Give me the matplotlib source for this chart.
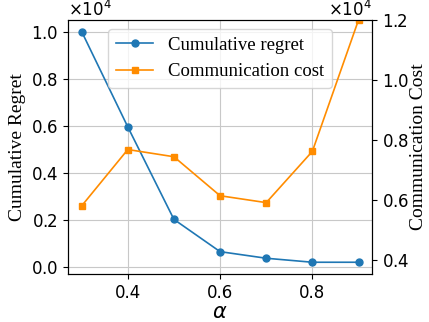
import matplotlib.pyplot as plt

# Données
alpha = [0.3, 0.4, 0.5, 0.6, 0.7, 0.8, 0.9]
regret_cumule = [10000, 5950, 2020, 650, 370, 200, 200]
cout_communication = [5800, 7680, 7440, 6140, 5910, 7620, 12000]

fig, ax1 = plt.subplots(figsize=(4.29, 3.22), dpi=100)
ax2 = ax1.twinx()

# Tracer les deux séries
l1, = ax1.plot(alpha, regret_cumule, '-o', color='#1f77b4', lw=1.2, ms=5,
               label='Cumulative regret')
l2, = ax2.plot(alpha, cout_communication, '-s', color='darkorange', lw=1.2, ms=5,
               label='Communication cost')

ax1.grid(True, color='#c8c8c8', lw=0.8)
ax1.set_ylim(-300, 10490)
ax2.set_ylim(3530, 12000)
ax1.set_yticks([0, 2000, 4000, 6000, 8000, 10000])
ax2.set_yticks([4000, 6000, 8000, 10000, 12000])

for ax in (ax1, ax2):
    ax.ticklabel_format(axis='y', style='sci', scilimits=(0, 0), useMathText=True)
    ax.yaxis.get_offset_text().set_fontsize(12)
    ax.tick_params(labelsize=12)

ax1.set_xticks([0.4, 0.6, 0.8])
ax1.set_xlabel(r'$\alpha$', fontsize=15, labelpad=0)
ax1.set_ylabel('Cumulative Regret', family='Liberation Serif', fontsize=14, labelpad=3)
ax2.set_ylabel('Communication Cost', family='Liberation Serif', fontsize=14, labelpad=0)

ax2.legend(handles=[l1, l2], loc='upper center',
           prop={'family': 'Liberation Serif', 'size': 13.5})

fig.subplots_adjust(left=0.158, right=0.868, top=0.938, bottom=0.149)
fig.savefig('out.png', dpi=100)
